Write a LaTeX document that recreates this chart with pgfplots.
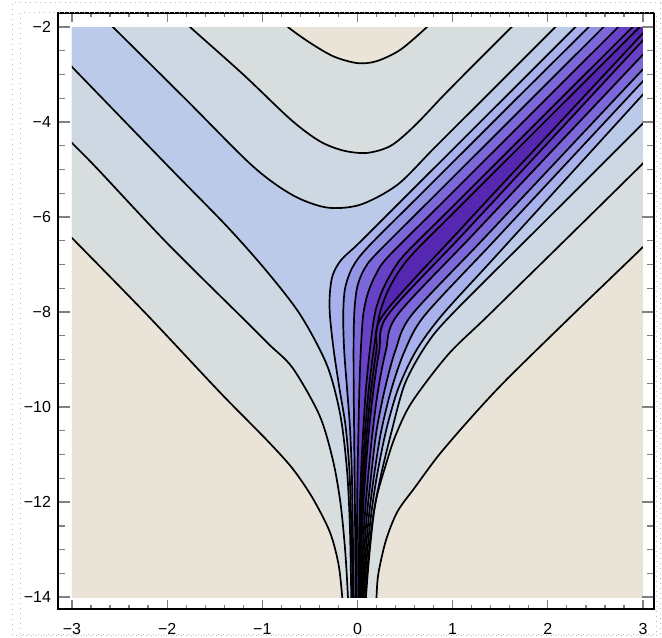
\documentclass[border=0pt]{standalone}
\usepackage{fontspec}
\setmainfont{Liberation Sans}
\usepackage{pgfplots}
\pgfplotsset{compat=1.18}

\definecolor{cL0}{HTML}{EAE3D8}
\definecolor{cL1}{HTML}{D8DDDD}
\definecolor{cL2}{HTML}{CDD8E3}
\definecolor{cL3}{HTML}{BCCAEA}
\definecolor{cL4}{HTML}{A9B1EC}
\definecolor{cL5}{HTML}{9494E4}
\definecolor{cL6}{HTML}{7C68D8}
\definecolor{cL7}{HTML}{6842C6}
\definecolor{cL8}{HTML}{5E30B8}
\definecolor{cL9}{HTML}{5628B2}

% contour lines (x, y)
\def\cF{(-0.14,-14.6) (-0.16,-14) (-0.2,-13.3) (-0.29,-12.63) (-0.47,-11.92) (-0.68,-11.3) (-0.95,-10.7) (-1.45,-9.68) (-2.21,-8.06) (-3,-6.44) (-3.3,-5.83) (-3.5,-5.42)}
\def\cA{(-1.0,-1.45) (-0.86,-1.72) (-0.73,-2) (-0.5,-2.33) (-0.25,-2.62) (0,-2.76) (0.2,-2.72) (0.45,-2.48) (0.73,-2) (0.86,-1.72) (1.0,-1.45)}
\def\cRa{(3.5,-5.6) (3.3,-6.0) (3,-6.63) (2.25,-8.08) (1.47,-9.62) (0.9,-10.9) (0.6,-11.7) (0.42,-12.2) (0.3,-12.8) (0.22,-13.5) (0.2,-14) (0.19,-14.6)}
\def\cE{(-0.09,-14.6) (-0.1,-14) (-0.13,-13.0) (-0.18,-12.0) (-0.26,-11.1) (-0.4,-10.17) (-0.68,-9.18) (-0.93,-8.68) (-1.22,-8.1) (-2.0,-6.55) (-2.74,-4.97) (-3,-4.44) (-3.3,-3.83) (-3.5,-3.42)}
\def\cB{(-2.0,-1.57) (-1.88,-1.78) (-1.76,-2) (-1.2,-3.0) (-0.7,-3.95) (-0.4,-4.4) (-0.15,-4.6) (0.1,-4.65) (0.35,-4.5) (0.6,-4.08) (0.9,-3.45) (1.25,-2.74) (1.62,-2) (1.74,-1.76) (1.87,-1.5)}
\def\cRb{(3.5,-3.85) (3.25,-4.35) (3,-4.87) (2.2,-6.45) (1.37,-8.08) (0.95,-8.9) (0.57,-9.9) (0.4,-10.6) (0.3,-11.2) (0.19,-12.0) (0.13,-13.0) (0.09,-14) (0.085,-14.6)}
\def\cD{(-0.06,-14.6) (-0.065,-14) (-0.08,-12.5) (-0.11,-11.33) (-0.18,-10.17) (-0.32,-9.12) (-0.6,-8.06) (-0.95,-7.15) (-1.37,-6.2) (-1.97,-4.97) (-3,-2.84) (-3.3,-2.22) (-3.5,-1.8)}
\def\cC{(-2.82,-1.5) (-2.7,-1.75) (-2.57,-2) (-1.8,-3.53) (-1.1,-4.93) (-0.68,-5.54) (-0.32,-5.8) (0.03,-5.74) (0.42,-5.32) (0.8,-4.56) (1.3,-3.56) (2.08,-2) (2.2,-1.76) (2.33,-1.5)}
\def\cRc{(3.5,-3.03) (3.25,-3.53) (3,-4.03) (2,-6.03) (0.99,-8.05) (0.72,-8.7) (0.5,-9.5) (0.36,-10.5) (0.24,-11.5) (0.15,-12.5) (0.08,-14) (0.078,-14.6)}
\def\bLa{(-0.05,-14.6) (-0.05,-14) (-0.065,-12.5) (-0.085,-11.33) (-0.125,-10.4) (-0.19,-9.6) (-0.25,-8.8) (-0.29,-8.06) (-0.29,-7.6) (-0.26,-7.22) (-0.17,-6.9) (0.03,-6.52) (0.6,-5.38) (1.5,-3.58) (2.29,-2) (2.42,-1.75) (2.54,-1.5)}
\def\bRa{(3.5,-2.32) (3.25,-2.87) (3,-3.42) (2,-5.62) (1.4,-6.94) (0.89,-8.06) (0.62,-8.8) (0.43,-9.6) (0.3,-10.5) (0.2,-11.5) (0.13,-12.5) (0.065,-14) (0.063,-14.6)}
\def\bLb{(-0.04,-14.6) (-0.04,-14) (-0.05,-12.5) (-0.06,-11.33) (-0.08,-10.4) (-0.11,-9.6) (-0.14,-8.8) (-0.15,-8.06) (-0.13,-7.5) (-0.05,-7.05) (0.12,-6.61) (0.7,-5.45) (1.6,-3.65) (2.43,-2) (2.55,-1.76) (2.68,-1.5)}
\def\bRb{(3.5,-2.06) (3.25,-2.6) (3,-3.14) (2,-5.29) (1.4,-6.58) (0.71,-8.06) (0.5,-8.8) (0.36,-9.6) (0.25,-10.5) (0.17,-11.5) (0.11,-12.5) (0.055,-14) (0.053,-14.6)}
\def\bLc{(-0.02,-14.6) (-0.02,-14) (-0.025,-12.5) (-0.03,-11.5) (-0.035,-10.5) (-0.04,-9.5) (-0.04,-8.5) (-0.03,-7.9) (0.0,-7.45) (0.07,-7.1) (0.2,-6.77) (0.8,-5.57) (1.7,-3.77) (2.59,-1.99) (2.71,-1.75) (2.84,-1.49)}
\def\bRc{(3.5,-1.83) (3.25,-2.36) (3,-2.89) (2,-5.02) (1.3,-6.51) (0.57,-8.06) (0.4,-8.8) (0.29,-9.6) (0.2,-10.5) (0.14,-11.5) (0.09,-12.5) (0.045,-14) (0.043,-14.6)}
\def\bLd{(-0.01,-14.6) (-0.01,-14) (-0.005,-12.5) (0.0,-11.5) (0.01,-10.5) (0.02,-9.6) (0.035,-8.8) (0.06,-8.06) (0.11,-7.6) (0.19,-7.22) (0.32,-6.84) (0.9,-5.68) (1.8,-3.88) (2.74,-2) (2.86,-1.76) (2.99,-1.5)}
\def\bRd{(3.5,-1.52) (3.25,-2.05) (3,-2.58) (2,-4.7) (1.2,-6.4) (0.42,-8.06) (0.3,-8.8) (0.22,-9.6) (0.16,-10.5) (0.11,-11.5) (0.07,-12.5) (0.035,-14) (0.033,-14.6)}
\def\bLe{(0.01,-14.6) (0.01,-14) (0.02,-12.5) (0.035,-11.5) (0.06,-10.5) (0.09,-9.6) (0.13,-8.8) (0.18,-8.06) (0.25,-7.6) (0.35,-7.2) (0.5,-6.78) (1.0,-5.78) (1.9,-3.98) (2.89,-2) (3.01,-1.76) (3.14,-1.5)}
\def\bRe{(3.5,-1.2) (3.25,-1.74) (3,-2.28) (2,-4.44) (1.1,-6.38) (0.32,-8.06) (0.23,-8.8) (0.17,-9.6) (0.12,-10.5) (0.08,-11.5) (0.05,-12.5) (0.025,-14) (0.024,-14.6)}
\def\bLf{(0.015,-14.6) (0.015,-14) (0.03,-12.5) (0.05,-11.5) (0.08,-10.5) (0.12,-9.6) (0.17,-8.8) (0.23,-8.06) (0.32,-7.55) (0.45,-7.1) (0.62,-6.69) (1.1,-5.73) (2.0,-3.93) (2.965,-2) (3.08,-1.76) (3.2,-1.52)}
\def\bRf{(3.5,-1.03) (3.25,-1.58) (3,-2.13) (2,-4.28) (1.1,-6.22) (0.27,-8.06) (0.2,-8.8) (0.145,-9.6) (0.1,-10.5) (0.065,-11.5) (0.04,-12.5) (0.02,-14) (0.02,-14.6)}

\newcommand{\fillregion}[2]{\edef\temp{\noexpand\addplot[fill=#1,draw=none,smooth,tension=0.5] coordinates {#2} -- cycle;}\temp}
\newcommand{\drawcurve}[1]{\edef\temp{\noexpand\addplot[black,line width=0.85pt,smooth,tension=0.5] coordinates {#1};}\temp}

\begin{document}
\begin{tikzpicture}
\useasboundingbox (-29pt,-14pt) rectangle (302pt,304.5pt);
% data layer, clipped to [-3,3]x[-14,-2]
\begin{axis}[
  at={(6.99pt,5.94pt)}, anchor=south west,
  scale only axis, width=285.49pt, height=285.05pt,
  xmin=-3, xmax=3, ymin=-14, ymax=-2,
  hide axis, clip=true,
]
\addplot[fill=cL0,draw=none] coordinates {(-3.5,-15) (3.5,-15) (3.5,-1) (-3.5,-1)} -- cycle;
\fillregion{cL1}{\cF (-3.7,-1.0) \cA (3.7,-1.0) \cRa}
\fillregion{cL2}{\cE (-3.7,-1.0) \cB (3.7,-1.0) \cRb}
\fillregion{cL3}{\cD (-3.7,-1.0) \cC (3.7,-1.0) \cRc}
\fillregion{cL4}{\bLa (3.7,-1.0) \bRa}
\fillregion{cL5}{\bLb (3.7,-1.0) \bRb}
\fillregion{cL6}{\bLc (3.7,-1.0) \bRc}
\fillregion{cL7}{\bLd (3.7,-1.0) \bRd}
\fillregion{cL8}{\bLe (3.7,-1.0) \bRe}
\fillregion{cL9}{\bLf (3.7,-1.0) \bRf}
\drawcurve{\cF}\drawcurve{\cA}\drawcurve{\cRa}
\drawcurve{\cE}\drawcurve{\cB}\drawcurve{\cRb}
\drawcurve{\cD}\drawcurve{\cC}\drawcurve{\cRc}
\drawcurve{\bLa}\drawcurve{\bRa}
\drawcurve{\bLb}\drawcurve{\bRb}
\drawcurve{\bLc}\drawcurve{\bRc}
\drawcurve{\bLd}\drawcurve{\bRd}
\drawcurve{\bLe}\drawcurve{\bRe}
\drawcurve{\bLf}\drawcurve{\bRf}
\end{axis}
% frame with ticks
\begin{axis}[
  at={(0pt,0pt)}, anchor=south west,
  scale only axis, width=298pt, height=298pt,
  xmin=-3.147, xmax=3.116, ymin=-14.25, ymax=-1.705,
  axis line style={line width=0.75pt},
  tick align=inside,
  xtick={-3,-2,-1,0,1,2,3},
  xticklabels={−3,−2,−1,0,1,2,3},
  ytick={-14,-12,-10,-8,-6,-4,-2},
  yticklabels={−14,−12,−10,−8,−6,−4,−2},
  minor x tick num=4, minor y tick num=3,
  xtick style={line width=0.65pt,/pgfplots/major tick length=4.5pt,/pgfplots/minor tick length=2.2pt},
  ytick style={line width=0.65pt,/pgfplots/major tick length=6pt,/pgfplots/minor tick length=3.5pt},
  ticklabel style={font=\fontsize{8}{9}\selectfont},
  xticklabel style={yshift=-3.5pt},
]
\end{axis}
\draw[gray!55, dotted, line width=0.5pt] (-23pt,-13pt) rectangle (301pt,303pt);
\draw[gray!55, dotted, line width=0.5pt] (-19pt,-12.5pt) rectangle (299pt,298pt);
\end{tikzpicture}
\end{document}
